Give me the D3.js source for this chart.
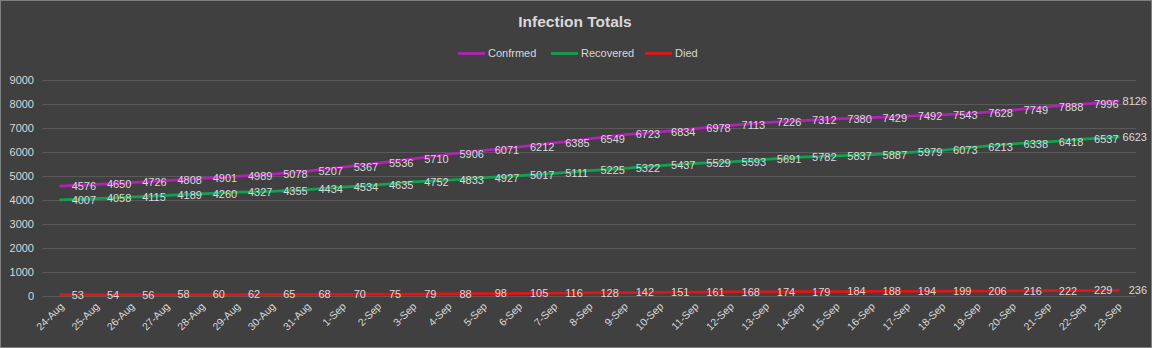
<!DOCTYPE html>
<html><head><meta charset="utf-8">
<script src="https://cdn.jsdelivr.net/npm/d3@7"></script>
<style>
html,body{margin:0;padding:0;background:#404040;}
svg{display:block;}
</style></head>
<body>
<script>
const categories = ["24-Aug","25-Aug","26-Aug","27-Aug","28-Aug","29-Aug","30-Aug","31-Aug",
"1-Sep","2-Sep","3-Sep","4-Sep","5-Sep","6-Sep","7-Sep","8-Sep","9-Sep","10-Sep","11-Sep","12-Sep",
"13-Sep","14-Sep","15-Sep","16-Sep","17-Sep","18-Sep","19-Sep","20-Sep","21-Sep","22-Sep","23-Sep"];
const confirmed = [4576,4650,4726,4808,4901,4989,5078,5207,5367,5536,5710,5906,6071,6212,6385,6549,6723,6834,6978,7113,7226,7312,7380,7429,7492,7543,7628,7749,7888,7996,8126];
const recovered = [4007,4058,4115,4189,4260,4327,4355,4434,4534,4635,4752,4833,4927,5017,5111,5225,5322,5437,5529,5593,5691,5782,5837,5887,5979,6073,6213,6338,6418,6537,6623];
const died = [53,54,56,58,60,62,65,68,70,75,79,88,98,105,116,128,142,151,161,168,174,179,184,188,194,199,206,216,222,229,236];
const yTicks = [0,1000,2000,3000,4000,5000,6000,7000,8000,9000];
const seriesNames = ["Confrmed","Recovered","Died"];
const seriesColors = ["#b023b4","#12a153","#e01616"];

const W = 1152, H = 348;
const font = "'Liberation Sans', Arial, sans-serif";
const txt = "#d9d9d9";
const svg = d3.select("body").append("svg").attr("width", W).attr("height", H);
svg.append("rect").attr("x",0.5).attr("y",0.5).attr("width",W-1).attr("height",H-1)
  .attr("fill","#404040").attr("stroke","#7f7f7f");

const x = d3.scaleBand().domain(categories).range([43,1136]);
const y = d3.scaleLinear().domain([0,9000]).range([296,80]);
const px = c => x(c) + x.bandwidth()/2;

// gridlines
svg.append("g").selectAll("line").data(yTicks).join("line")
  .attr("x1",43).attr("x2",1136).attr("y1",d=>y(d)+0.5).attr("y2",d=>y(d)+0.5)
  .attr("stroke","#5a5a5a").attr("stroke-width",1);

// y axis labels
const yAxis = d3.axisLeft(y).tickValues(yTicks).tickSize(0).tickPadding(0).tickFormat(d3.format("d"));
const gy = svg.append("g").attr("transform","translate(34,0)").call(yAxis);
gy.select(".domain").remove();
gy.selectAll("text").attr("fill",txt).style("font-family",font).style("font-size","11px");

// x axis labels
const xAxis = d3.axisBottom(x).tickSize(0).tickPadding(0);
const gx = svg.append("g").attr("transform","translate(0,296)").call(xAxis);
gx.select(".domain").remove();
gx.selectAll("text").attr("fill",txt).style("font-family",font).style("font-size","10.5px")
  .attr("text-anchor","end").attr("dy",0)
  .attr("transform","translate(4,11) rotate(-45)");

// lines
const series = [confirmed, recovered, died];
const line = d3.line().x((d,i)=>px(categories[i])).y(d=>y(d));
series.forEach((s,k)=>{
  svg.append("path").datum(s).attr("d",line).attr("fill","none")
    .attr("stroke",seriesColors[k]).attr("stroke-width",2.75)
    .attr("stroke-linejoin","round").attr("stroke-linecap","round");
});

// data labels (right of point, kept inside the chart)
const maxRight = 1147;
series.forEach((s,k)=>{
  svg.append("g").selectAll("text").data(s).join("text")
    .attr("x",(d,i)=> i===s.length-1 ? maxRight : px(categories[i])+11)
    .attr("text-anchor",(d,i)=> i===s.length-1 ? "end" : "start")
    .attr("y",d=>y(d)).attr("dy","0.35em")
    .attr("fill",txt).style("font-family",font).style("font-size","11px")
    .text(d=>d);
});

// title
svg.append("text").attr("x",575).attr("y",27).attr("text-anchor","middle")
  .attr("fill",txt).style("font-family",font).style("font-size","15.5px").style("font-weight","bold")
  .text("Infection Totals");

// legend
const legX = [458,551,645];
seriesNames.forEach((n,k)=>{
  svg.append("line").attr("x1",legX[k]).attr("x2",legX[k]+27).attr("y1",53.5).attr("y2",53.5)
    .attr("stroke",seriesColors[k]).attr("stroke-width",2.75);
  svg.append("text").attr("x",legX[k]+30).attr("y",53).attr("dy","0.35em")
    .attr("fill",txt).style("font-family",font).style("font-size","11px").text(n);
});
</script>
</body></html>
